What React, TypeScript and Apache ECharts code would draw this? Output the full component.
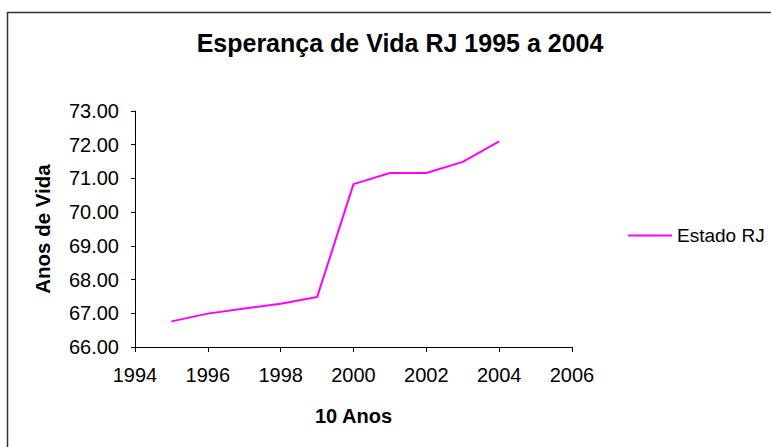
import React, { useEffect, useRef } from "react";
import * as echarts from "echarts";

const years = [1995, 1996, 1997, 1998, 1999, 2000, 2001, 2002, 2003, 2004];
const lifeExpectancy = [66.76, 66.99, 67.14, 67.28, 67.48, 70.83, 71.16, 71.16, 71.49, 72.1];
const seriesName = "Estado RJ";
const titleText = "Esperança de Vida RJ 1995 a 2004";
const xAxisName = "10 Anos";
const yAxisName = "Anos de Vida";

export default function App() {
  const ref = useRef<HTMLDivElement>(null);
  useEffect(() => {
    if (!ref.current) return;
    const chart = echarts.init(ref.current, null, { renderer: "svg" });
    const font = "'Liberation Sans', Arial, sans-serif";
    chart.setOption({
      animation: false,
      backgroundColor: "#fff",
      title: {
        text: titleText,
        left: 395,
        textAlign: "center",
        top: 25,
        textStyle: { fontFamily: font, fontSize: 25, fontWeight: "bold", color: "#000" },
      },
      legend: {
        data: [seriesName],
        left: 628,
        top: 226,
        itemWidth: 44,
        itemHeight: 2,
        itemGap: 5,
        padding: 0,
        icon: "rect",
        textStyle: { fontFamily: font, fontSize: 19, color: "#000" },
      },
      graphic: [
        {
          type: "rect",
          shape: { x: 7.5, y: 12.5, width: 800, height: 500 },
          style: { fill: "none", stroke: "#333", lineWidth: 1.5 },
          silent: true,
        },
      ],
      grid: { left: 135, right: 199, top: 111, bottom: 100 },
      xAxis: {
        type: "value",
        min: 1994,
        max: 2006,
        interval: 2,
        name: xAxisName,
        nameLocation: "middle",
        nameGap: 59,
        nameTextStyle: { fontFamily: font, fontSize: 20, fontWeight: "bold", color: "#000" },
        axisLine: { lineStyle: { color: "#000", width: 1 } },
        axisTick: { show: true, length: 5, lineStyle: { color: "#000" } },
        axisLabel: {
          fontFamily: font,
          fontSize: 20,
          color: "#000",
          margin: 18,
          formatter: (v: number) => String(v),
        },
        splitLine: { show: false },
      },
      yAxis: {
        type: "value",
        min: 66,
        max: 73,
        interval: 1,
        name: yAxisName,
        nameLocation: "middle",
        nameGap: 82,
        nameTextStyle: { fontFamily: font, fontSize: 20.5, fontWeight: "bold", color: "#000" },
        axisLine: { show: true, lineStyle: { color: "#000", width: 1 } },
        axisTick: { show: true, length: 4, lineStyle: { color: "#000" } },
        axisLabel: {
          fontFamily: font,
          fontSize: 20,
          color: "#000",
          margin: 16,
          formatter: (v: number) => v.toFixed(2),
        },
        splitLine: { show: false },
      },
      series: [
        {
          name: seriesName,
          type: "line",
          data: years.map((y, i) => [y, lifeExpectancy[i]]),
          symbol: "none",
          lineStyle: { color: "#ff00ff", width: 2 },
          itemStyle: { color: "#ff00ff" },
        },
      ],
    });
    return () => chart.dispose();
  }, []);
  return (
    <div
      ref={ref}
      style={{ position: "fixed", left: 0, top: 0, width: 771, height: 447 }}
    />
  );
}
